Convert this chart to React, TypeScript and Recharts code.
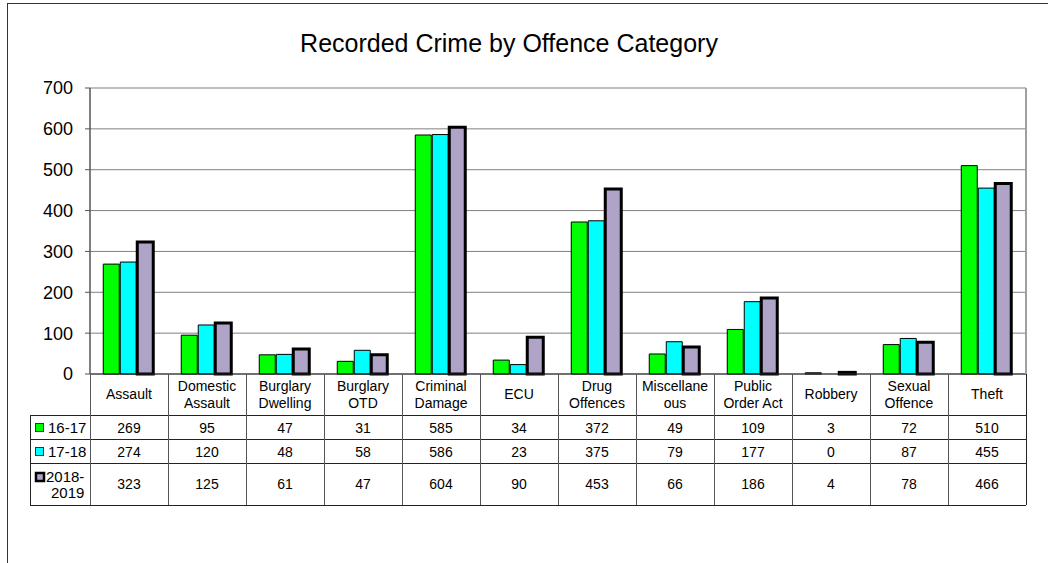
import React from 'react';
import { BarChart, Bar, XAxis, YAxis, CartesianGrid, ReferenceLine } from 'recharts';

// values
const categories = [
  'Assault', 'Domestic\nAssault', 'Burglary\nDwelling', 'Burglary\nOTD', 'Criminal\nDamage', 'ECU',
  'Drug\nOffences', 'Miscellane\nous', 'Public\nOrder Act', 'Robbery', 'Sexual\nOffence', 'Theft',
];
const s1617 = [269, 95, 47, 31, 585, 34, 372, 49, 109, 3, 72, 510];
const s1718 = [274, 120, 48, 58, 586, 23, 375, 79, 177, 0, 87, 455];
const s1819 = [323, 125, 61, 47, 604, 90, 453, 66, 186, 4, 78, 466];
const seriesNames = ['16-17', '17-18', '2018-\n2019'];
const yTicks = [0, 100, 200, 300, 400, 500, 600, 700];

const data = categories.map((name, i) => ({ name, a: s1617[i], b: s1718[i], c: s1819[i] }));

const FONT = "'Liberation Sans', Arial, sans-serif";
const GREEN = '#00ff00';
const CYAN = '#00ffff';
const PURPLE = '#b0a3c8';

// table geometry (matches chart plot area)
const plotLeft = 90;
const plotRight = 1026;
const colW = (plotRight - plotLeft) / categories.length;
const tableLeft = 30;
const rowY = [374, 415, 439, 463, 505];

const DataTable: React.FC = () => {
  const rows = [s1617, s1718, s1819];
  const baselines = [433, 457, 489];
  return (
    <g fontFamily={FONT} fontSize={14} fill="#000">
      {/* horizontal rules */}
      {rowY.slice(1).map((y) => (
        <line key={'h' + y} x1={tableLeft} x2={plotRight} y1={y + 0.5} y2={y + 0.5} stroke="#222" />
      ))}
      <line x1={tableLeft + 0.5} x2={tableLeft + 0.5} y1={rowY[1]} y2={rowY[4]} stroke="#222" />
      {categories.map((_, i) => (
        <line key={'v' + i} x1={plotLeft + i * colW + 0.5} x2={plotLeft + i * colW + 0.5} y1={rowY[0]} y2={rowY[4]} stroke="#555" />
      ))}
      <line x1={plotRight + 0.5} x2={plotRight + 0.5} y1={rowY[0]} y2={rowY[4]} stroke="#222" />

      {/* category labels */}
      {categories.map((c, i) => {
        const lines = c.split('\n');
        const cx = plotLeft + (i + 0.5) * colW;
        return lines.length === 1 ? (
          <text key={'c' + i} x={cx} y={399} textAnchor="middle">{c}</text>
        ) : (
          <text key={'c' + i} x={cx} textAnchor="middle">
            <tspan x={cx} y={391}>{lines[0]}</tspan>
            <tspan x={cx} y={408}>{lines[1]}</tspan>
          </text>
        );
      })}

      {/* values */}
      {rows.map((r, ri) =>
        r.map((v, i) => (
          <text key={ri + '-' + i} x={plotLeft + (i + 0.5) * colW} y={baselines[ri]} textAnchor="middle">{v}</text>
        ))
      )}

      {/* row labels with legend keys */}
      <rect x={35.5} y={423.5} width={8} height={8} fill={GREEN} stroke="#333" />
      <text x={48} y={433} fontSize={15}>{seriesNames[0]}</text>
      <rect x={35.5} y={447.5} width={8} height={8} fill={CYAN} stroke="#333" />
      <text x={48} y={457} fontSize={15}>{seriesNames[1]}</text>
      <rect x={36} y={473} width={8} height={8} fill={PURPLE} stroke="#000" strokeWidth={2.5} />
      <text x={46} y={482} fontSize={15}>{seriesNames[2].split('\n')[0]}</text>
      <text x={51} y={498} fontSize={15}>{seriesNames[2].split('\n')[1]}</text>
    </g>
  );
};

const App: React.FC = () => {
  return (
    <div style={{ position: 'absolute', left: 0, top: 0, width: 1048, height: 563, overflow: 'hidden', background: '#fff' }}>
      <div style={{ position: 'absolute', left: 0, top: 0 }}>
        <BarChart
          width={1048}
          height={400}
          data={data}
          margin={{ top: 88, right: 1048 - plotRight, left: 40, bottom: 26 }}
          barCategoryGap="17%"
          barGap={1}
        >
          <CartesianGrid vertical={false} stroke="#808080" strokeWidth={1} />
          <XAxis dataKey="name" hide />
          <YAxis
            domain={[0, 700]}
            ticks={yTicks}
            width={50}
            tickSize={5}
            tickMargin={12}
            axisLine={{ stroke: '#555', strokeWidth: 1.5 }}
            tickLine={{ stroke: '#555' }}
            tick={{ fill: '#000', fontSize: 18, fontFamily: FONT }}
            interval={0}
          />
          <ReferenceLine y={0} stroke="#222" />
          <Bar dataKey="a" fill={GREEN} stroke="#000" strokeWidth={1} isAnimationActive={false} />
          <Bar dataKey="b" fill={CYAN} stroke="#000" strokeWidth={1} isAnimationActive={false} />
          <Bar dataKey="c" fill={PURPLE} stroke="#000" strokeWidth={3} isAnimationActive={false} />
        </BarChart>
      </div>
      <svg width={1048} height={563} style={{ position: 'absolute', left: 0, top: 0, pointerEvents: 'none' }}>
        <rect x={7.5} y={3.5} width={1200} height={700} fill="none" stroke="#333" />
        <text x={509} y={52} textAnchor="middle" fontFamily={FONT} fontSize={25} fill="#000">
          Recorded Crime by Offence Category
        </text>
        <line x1={plotRight} x2={plotRight} y1={88} y2={374} stroke="#a0a0a0" strokeWidth={2} />
        <DataTable />
      </svg>
    </div>
  );
};

export default App;
